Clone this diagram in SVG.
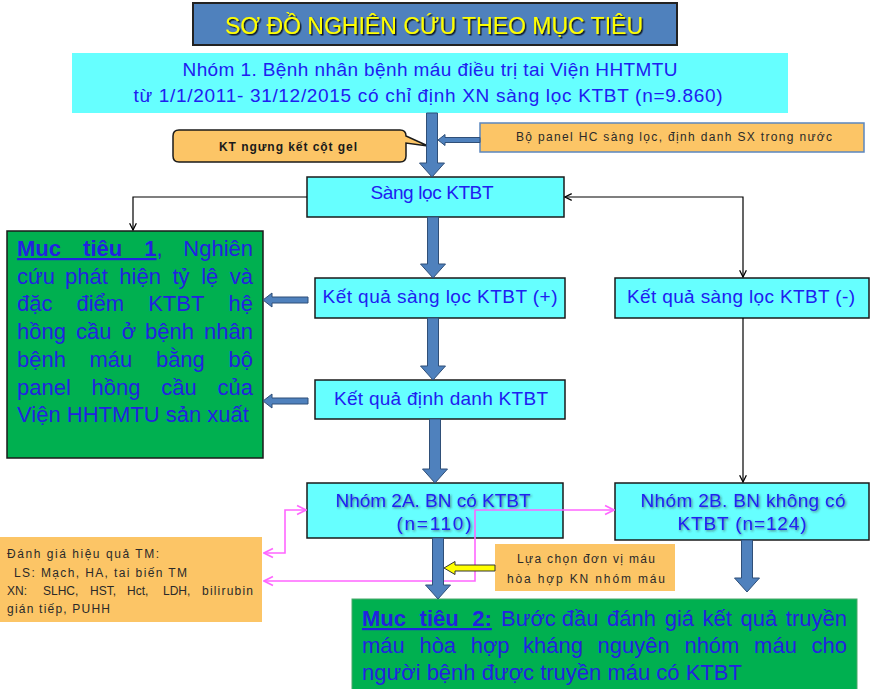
<svg xmlns="http://www.w3.org/2000/svg" width="872" height="689" viewBox="0 0 872 689">
<style>
text{font-family:"Liberation Sans",Arial,sans-serif;}
.cy{fill:#66FFFF;stroke:#1a1a1a;stroke-width:1.5;}
.gr{fill:#00B050;stroke:#1a1a1a;stroke-width:1.5;}
.or{fill:#FCC566;}
.bt{fill:#2020F0;font-size:19px;}
.gt{fill:#2222E0;font-size:22px;}
.st{fill:#2a2a2a;font-size:12px;}
.blk{fill:#4F81BD;stroke:#2F4F78;stroke-width:1;}
.ln{fill:none;stroke:#000;stroke-width:1.2;}
.pk{fill:none;stroke:#FF66FF;stroke-width:1.6;}
</style>
<defs>
<marker id="ah" viewBox="0 0 10 10" refX="9" refY="5" markerWidth="7" markerHeight="7" orient="auto-start-reverse"><path d="M1,1 L9,5 L1,9" fill="none" stroke="#000" stroke-width="1.5"/></marker>
<marker id="ap" viewBox="0 0 10 10" refX="9" refY="5" markerWidth="7" markerHeight="7" orient="auto-start-reverse"><path d="M1,1 L9,5 L1,9" fill="none" stroke="#FF66FF" stroke-width="1.5"/></marker>
<filter id="tsh" x="-5%" y="-30%" width="110%" height="160%"><feDropShadow dx="1.5" dy="1.5" stdDeviation="0.5" flood-color="#000" flood-opacity="0.8"/></filter>
<filter id="tsh2" x="-5%" y="-30%" width="110%" height="160%"><feDropShadow dx="1.2" dy="1.2" stdDeviation="1" flood-color="#333" flood-opacity="0.6"/></filter>
</defs>

<g id="title">
<rect x="193" y="3" width="484" height="42" fill="#4F81BD" stroke="#222" stroke-width="2"/>
<text x="434" y="34" text-anchor="middle" font-size="23" fill="#FFFF00" filter="url(#tsh)" textLength="418" lengthAdjust="spacing">SƠ ĐỒ NGHIÊN  CỨU THEO MỤC TIÊU</text>
</g>

<g id="nhom1">
<rect x="72" y="53" width="716" height="60" fill="#66FFFF"/>
<text class="bt" x="430" y="76" text-anchor="middle" font-size="18" textLength="495" lengthAdjust="spacing">Nhóm 1. Bệnh nhân bệnh máu điều trị tai Viện HHTMTU</text>
<text class="bt" x="428" y="102" text-anchor="middle" font-size="18" textLength="589" lengthAdjust="spacing">từ 1/1/2011- 31/12/2015 có chỉ định XN sàng lọc KTBT (n=9.860)</text>
</g>

<g id="kt-gel">
<path d="M179,130 H400 Q406,130 406,136 L428,146 L406,143 V156 Q406,162 400,162 H179 Q173,162 173,156 V136 Q173,130 179,130 Z" fill="#FCC566" stroke="#1a1a1a" stroke-width="1.5"/>
<text x="288" y="151" text-anchor="middle" font-size="12" font-weight="bold" fill="#1a1a1a" textLength="138" lengthAdjust="spacing">KT ngưng kết cột gel</text>
</g>

<g id="bo-panel">
<rect x="480" y="123" width="384" height="29" fill="#FCC566" stroke="#5B86BF" stroke-width="1.5"/>
<text class="st" x="674" y="141" text-anchor="middle" textLength="316" lengthAdjust="spacing">Bộ panel HC sàng lọc, định danh SX trong nước</text>
</g>

<g id="sang-loc">
<rect class="cy" x="307" y="177" width="257" height="40"/>
<text class="bt" x="432" y="199" text-anchor="middle" font-size="18.5" textLength="123" lengthAdjust="spacing">Sàng lọc KTBT</text>
</g>

<g id="muc-tieu-1">
<rect class="gr" x="7" y="231" width="256" height="227"/>
<text class="gt" y="256"><tspan x="17" font-weight="bold" text-decoration="underline" word-spacing="16">Muc tiêu 1</tspan><tspan>,</tspan></text>
<text class="gt" x="253" y="256" text-anchor="end">Nghiên</text>
<text class="gt" y="283.7"><tspan x="17">cứu</tspan><tspan x="65">phát</tspan><tspan x="119.3">hiện</tspan><tspan x="172.5">tỷ</tspan><tspan x="201.2">lệ</tspan></text>
<text class="gt" x="253" y="283.7" text-anchor="end">và</text>
<text class="gt" y="311.4"><tspan x="17">đặc</tspan><tspan x="76.5">điểm</tspan><tspan x="148.2">KTBT</tspan></text>
<text class="gt" x="253" y="311.4" text-anchor="end">hệ</text>
<text class="gt" y="339.1"><tspan x="17">hồng</tspan><tspan x="76">cầu</tspan><tspan x="121.7">ở</tspan><tspan x="145">bệnh</tspan></text>
<text class="gt" x="253" y="339.1" text-anchor="end">nhân</text>
<text class="gt" y="366.8"><tspan x="17">bệnh</tspan><tspan x="89.5">máu</tspan><tspan x="155.9">bằng</tspan></text>
<text class="gt" x="253" y="366.8" text-anchor="end">bộ</text>
<text class="gt" y="394.5"><tspan x="17">panel</tspan><tspan x="91.6">hồng</tspan><tspan x="161.3">cầu</tspan></text>
<text class="gt" x="253" y="394.5" text-anchor="end">của</text>
<text class="gt" x="17" y="422.2">Viện HHTMTU sản xuất</text>
</g>

<g id="kq-duong">
<rect class="cy" x="315" y="278" width="250" height="40"/>
<text class="bt" x="440" y="303" text-anchor="middle" textLength="235" lengthAdjust="spacing">Kết quả sàng lọc KTBT (+)</text>
</g>

<g id="kq-am">
<rect class="cy" x="615" y="278" width="254" height="40"/>
<text class="bt" x="741" y="303" text-anchor="middle" textLength="228" lengthAdjust="spacing">Kết quả sàng lọc KTBT (-)</text>
</g>

<g id="kq-dinh-danh">
<rect class="cy" x="315" y="380" width="250" height="39"/>
<text class="bt" x="441" y="405" text-anchor="middle" textLength="214" lengthAdjust="spacing">Kết quả định danh KTBT</text>
</g>

<g id="nhom-2a">
<rect class="cy" x="307" y="483" width="256" height="55"/>
<g filter="url(#tsh2)">
<text class="bt" x="433" y="507" text-anchor="middle" textLength="195" lengthAdjust="spacing">Nhóm 2A. BN có KTBT</text>
<text class="bt" x="434" y="530" text-anchor="middle" textLength="75" lengthAdjust="spacing">(n=110)</text>
</g>
</g>

<g id="nhom-2b">
<rect class="cy" x="615" y="483" width="254" height="57"/>
<g filter="url(#tsh2)">
<text class="bt" x="743" y="507" text-anchor="middle" textLength="205" lengthAdjust="spacing">Nhóm 2B. BN không có</text>
<text class="bt" x="742" y="530" text-anchor="middle" textLength="129" lengthAdjust="spacing">KTBT (n=124)</text>
</g>
</g>

<g id="danh-gia">
<rect class="or" x="0" y="537" width="262" height="85"/>
<text class="st" x="7" y="558" textLength="152" lengthAdjust="spacing">Đánh giá hiệu quả TM:</text>
<text class="st" x="14" y="577" textLength="173" lengthAdjust="spacing">LS: Mạch, HA, tai biến TM</text>
<text class="st" y="595"><tspan x="7">XN:</tspan><tspan x="43">SLHC,</tspan><tspan x="90">HST,</tspan><tspan x="127">Hct,</tspan><tspan x="163">LDH,</tspan></text>
<text class="st" x="253" y="595" text-anchor="end" textLength="51" lengthAdjust="spacing">bilirubin</text>
<text class="st" x="7" y="613" textLength="103" lengthAdjust="spacing">gián tiếp, PUHH</text>
</g>

<g id="lua-chon">
<rect class="or" x="495" y="544" width="180" height="47"/>
<text class="st" x="586" y="563" text-anchor="middle" font-size="11.5" textLength="138" lengthAdjust="spacing">Lựa chọn đơn vị máu</text>
<text class="st" x="586" y="583" text-anchor="middle" font-size="11.5" textLength="158" lengthAdjust="spacing">hòa hợp KN  nhóm máu</text>
</g>

<g id="muc-tieu-2">
<rect x="352" y="599" width="505" height="92" fill="#00B050" stroke="#4aa86a" stroke-width="1"/>
<text class="gt" y="626"><tspan x="362" font-weight="bold" text-decoration="underline" word-spacing="7.5">Muc tiêu 2:</tspan><tspan x="501">Bước</tspan><tspan x="561.8">đầu</tspan><tspan x="607.1">đánh</tspan><tspan x="664.7">giá</tspan><tspan x="702.6">kết</tspan><tspan x="740.6">quả</tspan></text>
<text class="gt" x="847" y="626" text-anchor="end">truyền</text>
<text class="gt" y="653"><tspan x="362">máu</tspan><tspan x="419.4">hòa</tspan><tspan x="470.7">hợp</tspan><tspan x="523.1">kháng</tspan><tspan x="597.6">nguyên</tspan><tspan x="684.4">nhóm</tspan><tspan x="754.1">máu</tspan></text>
<text class="gt" x="847" y="653" text-anchor="end">cho</text>
<text class="gt" x="362" y="680">người bệnh được truyền máu có KTBT</text>
</g>

<g id="connectors">
<path class="ln" d="M307,197 H133 V230" marker-end="url(#ah)"/>
<path class="ln" d="M565,197 H743 V277" marker-start="url(#ah)" marker-end="url(#ah)"/>
<path class="ln" d="M743,318 V482" marker-end="url(#ah)"/>
<path class="pk" d="M264,553 H285 V510 H306" marker-start="url(#ap)" marker-end="url(#ap)"/>
<path class="pk" d="M264,581 H475 V510 H614" marker-start="url(#ap)" marker-end="url(#ap)"/>
<path class="blk" d="M426.5,113 V163 H419.5 L432,177 L444.5,163 H437.5 V113 Z"/>
<path class="blk" d="M427.5,217 V264 H420.5 L433,278 L445.5,264 H438.5 V217 Z"/>
<path class="blk" d="M427.5,318 V366 H420.5 L433,380 L445.5,366 H438.5 V318 Z"/>
<path class="blk" d="M429.5,419 V469 H422.5 L435,483 L447.5,469 H440.5 V419 Z"/>
<path class="blk" d="M432.5,538 V585 H425.5 L438,599 L450.5,585 H443.5 V538 Z"/>
<path class="blk" d="M741.5,540 V578 H734.5 L747,592 L759.5,578 H752.5 V540 Z"/>
<path class="blk" d="M480,137.5 H445 V134.5 L438,140 L445,145.5 V142.5 H480 Z"/>
<path class="blk" d="M308,297 H272 V293 L263,300 L272,307 V303 H308 Z"/>
<path class="blk" d="M308,398 H272 V394 L263,401 L272,408 V404 H308 Z"/>
<path d="M495,565 H455 V561.5 L444,568 L455,574.5 V571 H495 Z" fill="#FFFF00" stroke="#333" stroke-width="1"/>
</g>
</svg>
